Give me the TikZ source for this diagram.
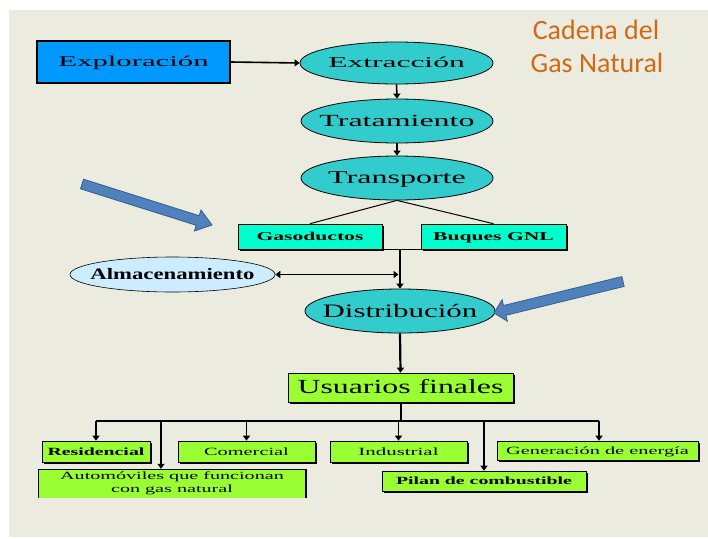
\documentclass[tikz,border=0pt]{standalone}
\usepackage{fontspec}
\usepackage{graphicx}
\setmainfont{Liberation Serif}
\newfontfamily\titlefont{Carlito}
\usetikzlibrary{arrows.meta,shapes.geometric,shadows}
\definecolor{bgc}{RGB}{236,235,224}
\definecolor{explblue}{RGB}{0,153,255}
\definecolor{tealc}{RGB}{51,204,204}
\definecolor{aquac}{RGB}{0,255,204}
\definecolor{lightbl}{RGB}{204,236,255}
\definecolor{greenc}{RGB}{153,255,51}
\definecolor{titleor}{RGB}{210,105,20}
\definecolor{arrfill}{RGB}{79,129,189}
\definecolor{arrdraw}{RGB}{56,93,138}
\newcommand{\stxt}[3]{{\fontsize{#1}{#1}\selectfont\makebox[0pt]{\scalebox{#2}[1]{#3}}\vphantom{Ép}}}
\tikzset{
  ell/.style={ellipse, draw=black, line width=0.8pt, fill=tealc, inner sep=0pt},
  sbox/.style={rectangle, draw=black, line width=0.6pt, inner sep=0pt,
    general shadow={fill=black, shadow xshift=1.5pt, shadow yshift=-1.5pt}},
  gbox/.style={sbox, fill=greenc},
  abox/.style={sbox, fill=aquac},
  conn/.style={draw=black, line width=1.6pt, -{Triangle[length=5pt,width=7pt]}},
  plain/.style={draw=black, line width=1pt},
  titlef/.style={font=\titlefont\fontsize{28}{28}\selectfont, text=titleor, inner sep=0pt, anchor=base},
  bluearr/.style={fill=arrfill, draw=arrdraw, line width=0.8pt, line join=miter}
}
\begin{document}
\begin{tikzpicture}[x=1pt,y=-1pt]
\useasboundingbox (0,0) rectangle (708,538);
\fill[white] (0,0) rectangle (708,538);
\fill[bgc] (9,10) rectangle (708,537);

% title
\node[titlef] (t1) at (596,39) {Cadena del};
\node[titlef] (t2) at (597,72) {Gas Natural};

% top chain
\node[rectangle, draw=black, line width=2pt, fill=explblue, inner sep=0pt,
      minimum width=193pt, minimum height=42pt] (expl) at (133.5,62) {\stxt{15}{2.05}{Exploración}};
\node[ell, minimum width=193pt, minimum height=42pt] (ext) at (396.5,63) {\stxt{15}{2.1}{Extracción}};
\node[ell, minimum width=192pt, minimum height=44pt] (tra) at (397,121) {\stxt{17}{1.88}{Tratamiento}};
\node[ell, minimum width=192pt, minimum height=44pt] (tsp) at (397,178) {\stxt{18}{1.78}{Transporte}};

\node[abox, minimum width=144pt, minimum height=25pt] (gas) at (310,236.5) {\stxt{12}{1.8}{\bfseries Gasoductos}};
\node[abox, minimum width=145pt, minimum height=25pt] (buq) at (493.5,236.5) {\stxt{12}{1.8}{\bfseries Buques GNL}};

\node[ell, fill=lightbl, line width=0.6pt, minimum width=205pt, minimum height=35pt] (alm) at (172.5,274.5) {\stxt{16}{1.42}{\bfseries Almacenamiento}};
\node[ell, minimum width=190pt, minimum height=44pt] (dis) at (400,311) {\stxt{19}{1.63}{Distribución}};

\node[gbox, minimum width=225pt, minimum height=29pt] (usu) at (400.5,387.5) {\stxt{20}{1.59}{Usuarios finales}};

\node[gbox, minimum width=108pt, minimum height=21pt] (res) at (96,451.5) {\stxt{11}{1.8}{\bfseries Residencial}};
\node[gbox, minimum width=137pt, minimum height=21pt] (com) at (246.5,451.5) {\stxt{11}{1.85}{Comercial}};
\node[gbox, minimum width=137pt, minimum height=21pt] (ind) at (398.5,451.5) {\stxt{11}{1.9}{Industrial}};
\node[gbox, minimum width=201pt, minimum height=19pt] (gen) at (597.5,450.5) {\stxt{11}{1.85}{Generación de energía}};
\node[rectangle, fill=greenc, inner sep=0pt, minimum width=268pt, minimum height=29pt] (aut) at (172,483.5)
  {\fontsize{11}{13}\selectfont\scalebox{1.83}[1]{\begin{tabular}{@{}c@{}}Automóviles que funcionan\\con gas natural\end{tabular}}};
\draw[line width=0.6pt] (aut.south west) -- (aut.north west) -- (aut.north east);
\draw[line width=2pt] (aut.north east) -- (aut.south east);
\node[gbox, minimum width=204pt, minimum height=20pt] (pil) at (484,481) {\stxt{11}{1.8}{\bfseries Pilan de combustible}};

% connectors
\draw[conn] (expl.east) -- (ext.west);
\draw[conn] (ext.south) -- (tra.north);
\draw[conn] (tra.south) -- (tsp.north);
\draw[plain] (tsp.south) -- (gas.north);
\draw[plain] (tsp.south) -- (buq.north);
\coordinate (j) at (400,249);
\draw[plain] (gas.south east) -- (buq.south west);
\draw[conn, line width=2.5pt] (j) -- (dis.north);
\coordinate (k) at (398.5,274.5);
\draw[draw=black, line width=1.6pt, {Triangle[length=5pt,width=7pt]}-{Triangle[length=5pt,width=7pt]}] (alm.east) -- (k);
\draw[conn, line width=2.2pt] (dis.south) -- (usu.north);

\coordinate (bl) at (96,421);
\coordinate (br) at (599,421);
\coordinate (ad) at (161,421);
\draw[plain, line width=2pt] (usu.south) -- (usu.south |- bl);
\draw[plain, line width=1.2pt] (bl) -- (br);
\draw[conn] (res.north |- bl) -- (res.north);
\draw[conn] (ad) -- (ad |- aut.north);
\draw[conn] (com.north |- bl) -- (com.north);
\draw[conn] (ind.north |- bl) -- (ind.north);
\draw[conn, line width=2.5pt] (pil.north |- bl) -- (pil.north);
\draw[conn] (br) -- (br |- gen.north);

% blue block arrows
\draw[bluearr] (83.5,179.2) -- (199.2,215.7) -- (201.0,210.0) -- (212,225) -- (194.4,231.0) -- (196.2,225.3) -- (80.5,188.8) -- cycle;
\draw[bluearr] (621.8,276.6) -- (503.5,305.5) -- (502.1,299.7) -- (494,313) -- (507.3,321.1) -- (505.9,315.3) -- (624.2,286.4) -- cycle;
\end{tikzpicture}
\end{document}
